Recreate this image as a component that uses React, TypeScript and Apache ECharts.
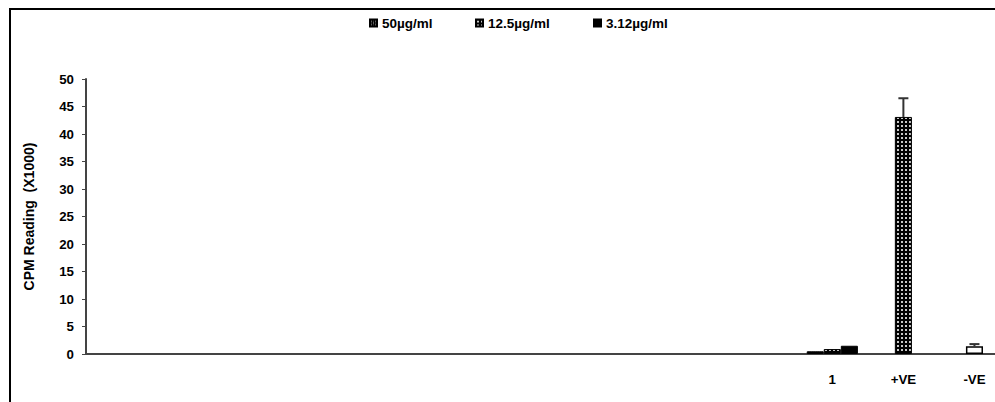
import React, { useEffect, useRef } from "react";
import * as echarts from "echarts";

const categories = ["", "", "", "", "", "", "", "", "", "", "1", "+VE", "-VE"];
const seriesNames = ["50µg/ml", "12.5µg/ml", "3.12µg/ml"];
const values50 = [null, null, null, null, null, null, null, null, null, null, 0.5, null, null];
const values12_5 = [null, null, null, null, null, null, null, null, null, null, 0.9, 43.1, 1.4];
const values3_12 = [null, null, null, null, null, null, null, null, null, null, 1.5, null, null];
// error bars on the middle series: [categoryIndex, value, +error]
const errors12_5 = [
  [11, 43.1, 3.4],
  [12, 1.4, 0.4],
];
const yTicks = [0, 5, 10, 15, 20, 25, 30, 35, 40, 45, 50];

function makePattern(kind: "dots" | "checker"): HTMLCanvasElement {
  const c = document.createElement("canvas");
  c.width = 4;
  c.height = 4;
  const ctx = c.getContext("2d")!;
  ctx.fillStyle = "#000";
  ctx.fillRect(0, 0, 4, 4);
  if (kind === "checker") {
    ctx.fillStyle = "#c8c8c8";
    ctx.fillRect(1, 1, 2, 2);
  } else {
    ctx.fillStyle = "#bbb";
    ctx.fillRect(1, 1, 1, 1);
    ctx.fillRect(3, 3, 1, 1);
    ctx.fillStyle = "#666";
    ctx.fillRect(3, 1, 1, 1);
    ctx.fillRect(1, 3, 1, 1);
  }
  return c;
}

export default function App() {
  const ref = useRef<HTMLDivElement>(null);
  useEffect(() => {
    if (!ref.current) return;
    const chart = echarts.init(ref.current, undefined, { renderer: "svg" });
    const font = "'Liberation Sans', Arial, sans-serif";
    const dots = { image: makePattern("dots"), repeat: "repeat" };
    const checker = { image: makePattern("checker"), repeat: "repeat" };
    const axisData = categories.map((c, i) => (c === "" ? "_" + i : c));
    const mid = values12_5.map((v, i) =>
      v === null
        ? null
        : i === 12
        ? { value: v, itemStyle: { color: "#fff", borderColor: "#000", borderWidth: 1.5 } }
        : v
    );
    const legendLefts = [364, 470, 588];
    const legendText = { fontFamily: font, fontWeight: "bold", fontSize: 13.5, color: "#000" };
    chart.setOption({
      animation: false,
      graphic: [
        {
          type: "rect",
          shape: { x: 10, y: 9, width: 1100, height: 500 },
          style: { fill: "none", stroke: "#000", lineWidth: 2 },
          silent: true,
        },
      ],
      legend: seriesNames.map((n, i) => ({
        top: 11,
        left: legendLefts[i],
        padding: 5,
        itemWidth: 7,
        itemHeight: 7,
        icon: "rect",
        textStyle: legendText,
        data: [n],
      })),
      grid: { left: 86, top: 79, height: 275, width: 924, containLabel: false, outerBoundsMode: "none" },
      xAxis: {
        type: "category",
        data: axisData,
        axisLine: { lineStyle: { color: "#444", width: 2 } },
        axisTick: { length: 5, lineStyle: { color: "#000", width: 1 }, interval: 0 },
        axisLabel: {
          interval: 0,
          margin: 19,
          fontFamily: font,
          fontWeight: "bold",
          fontSize: 13.3,
          color: "#000",
          formatter: (v: string) => (v.startsWith("_") ? "" : v),
        },
      },
      yAxis: {
        type: "value",
        min: yTicks[0],
        max: yTicks[yTicks.length - 1],
        interval: 5,
        name: "CPM Reading  (X1000)",
        nameLocation: "middle",
        nameGap: 50,
        nameTextStyle: { fontFamily: font, fontWeight: "bold", fontSize: 14, color: "#000" },
        splitLine: { show: false },
        axisLine: { show: true, lineStyle: { color: "#444", width: 2 } },
        axisTick: { show: true, length: 4, lineStyle: { color: "#444" } },
        axisLabel: { margin: 12, fontFamily: font, fontWeight: "bold", fontSize: 13.3, color: "#000" },
      },
      series: [
        {
          name: seriesNames[0],
          type: "bar",
          data: values50,
          barGap: "0%",
          barCategoryGap: "28%",
          itemStyle: { color: dots, borderColor: "#000", borderWidth: 1 },
        },
        {
          name: seriesNames[1],
          type: "bar",
          data: mid,
          barGap: "0%",
          barCategoryGap: "28%",
          itemStyle: { color: checker, borderColor: "#000", borderWidth: 1 },
        },
        {
          name: seriesNames[2],
          type: "bar",
          data: values3_12,
          barGap: "0%",
          barCategoryGap: "28%",
          itemStyle: { color: "#000", borderColor: "#000", borderWidth: 1 },
        },
        {
          type: "custom",
          silent: true,
          data: errors12_5,
          encode: { x: 0, y: [1, 2] },
          renderItem: (params: any, api: any) => {
            const idx = api.value(0);
            const v = api.value(1);
            const e = api.value(2);
            const p0 = api.coord([idx, v]);
            const p1 = api.coord([idx, v + e]);
            const x = p0[0];
            const style = { stroke: "#333", lineWidth: 2 };
            return {
              type: "group",
              children: [
                { type: "line", shape: { x1: x, y1: p0[1], x2: x, y2: p1[1] }, style },
                { type: "line", shape: { x1: x - 5, y1: p1[1], x2: x + 5, y2: p1[1] }, style },
              ],
            };
          },
          z: 5,
        },
      ],
    });
    return () => chart.dispose();
  }, []);
  return (
    <div
      ref={ref}
      style={{ position: "absolute", left: 0, top: 0, width: 995, height: 402, background: "#fff" }}
    />
  );
}
